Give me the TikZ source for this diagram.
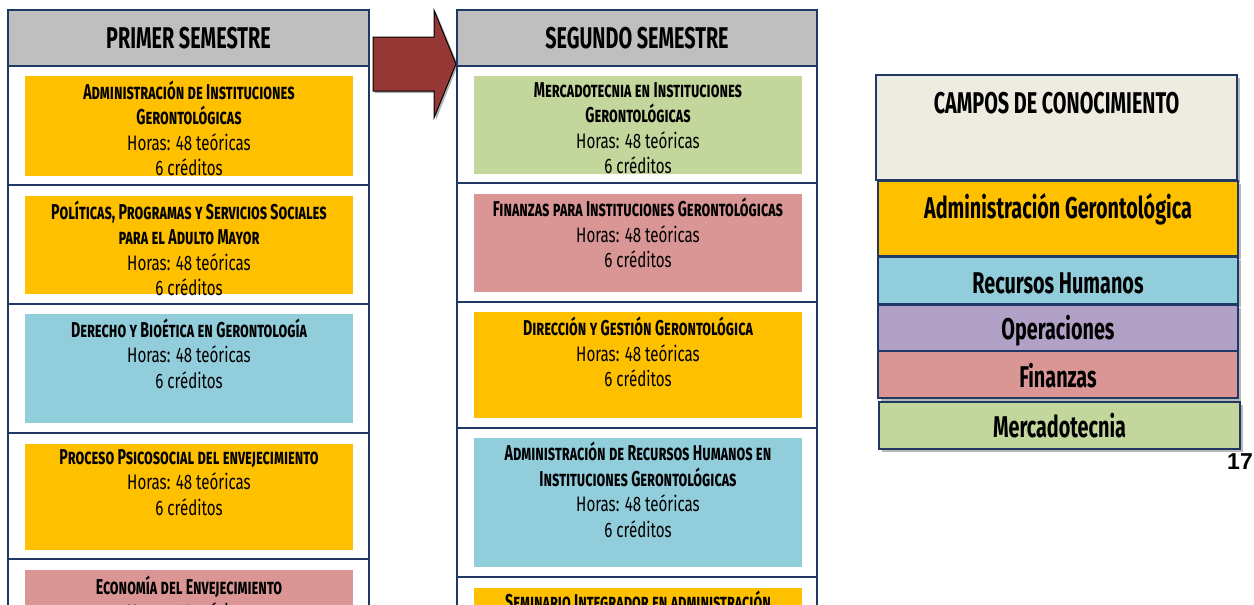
\documentclass[tikz,border=0pt]{standalone}
\usepackage{fontspec}
\setmainfont{Fira Sans}
\newfontfamily\ag[FakeStretch=0.66]{Fira Sans}
\newfontfamily\agb[FakeStretch=0.72]{Fira Sans}
\newfontfamily\arialb{Liberation Sans}
\usetikzlibrary{shadows}
\definecolor{navy}{HTML}{1F3864}
\definecolor{hdr}{HTML}{BFBFBF}
\definecolor{yel}{HTML}{FFC000}
\definecolor{blu}{HTML}{92CDDC}
\definecolor{pnk}{HTML}{D99694}
\definecolor{grn}{HTML}{C3D69B}
\definecolor{pur}{HTML}{B2A1C7}
\definecolor{cream}{HTML}{EEECE1}
\definecolor{arrred}{HTML}{953735}
\newcommand\sj{\ag\fontsize{21.5}{25.5}\selectfont\bfseries\scshape}
\newcommand\nm{\agb\fontsize{21}{25.5}\selectfont\mdseries\upshape}
\tikzset{
  cell/.style={draw=navy, line width=1.6pt, fill=white, inner sep=0pt},
  hcell/.style={cell, fill=hdr, font=\ag\bfseries\fontsize{30}{31}\selectfont},
  course/.style={inner sep=0pt, draw=none},
  txt/.style={align=center, inner sep=0pt, font=\ag\fontsize{19}{25.5}\selectfont},
  field/.style={draw=navy, line width=1.6pt, inner sep=0pt, minimum width=360pt,
    drop shadow={shadow xshift=3pt, shadow yshift=-3pt, fill=gray!70, opacity=0.8}},
  ftext/.style={anchor=base, inner sep=0pt, font=\ag\bfseries\fontsize{30}{31}\selectfont},
}
\begin{document}
\begin{tikzpicture}[x=1pt,y=-1pt]
\useasboundingbox (0,0) rectangle (1254,605);
\clip (0,0) rectangle (1254,605);
% ---------- left column ----------
\node[hcell, minimum width=361pt, minimum height=56pt] (lh) at (188.5,38) {PRIMER SEMESTRE};
\node[cell, minimum width=361pt, minimum height=119pt] (lr1) at (188.5,125.5) {};
\node[cell, minimum width=361pt, minimum height=119pt] (lr2) at (188.5,244.5) {};
\node[cell, minimum width=361pt, minimum height=129pt] (lr3) at (188.5,368.5) {};
\node[cell, minimum width=361pt, minimum height=126pt] (lr4) at (188.5,496) {};
\node[cell, minimum width=361pt, minimum height=141pt] (lr5) at (188.5,629.5) {};
\node[course, fill=yel, minimum width=328pt, minimum height=100pt] (lc1) at (189,126) {};
\node[course, fill=yel, minimum width=328pt, minimum height=98pt] (lc2) at (189,245) {};
\node[course, fill=blu, minimum width=328pt, minimum height=109pt] (lc3) at (189,368.5) {};
\node[course, fill=yel, minimum width=328pt, minimum height=106pt] (lc4) at (189,497) {};
\node[course, fill=pnk, minimum width=328pt, minimum height=130pt] (lc5) at (189,635) {};
\node[txt] (lt1) at (189,128.5) {\sj Administración de Instituciones\\\sj Gerontológicas\\\nm Horas: 48 teóricas\\\nm 6 créditos};
\node[txt] (lt2) at (189,248.5) {\sj Políticas, Programas y Servicios Sociales\\\sj para el Adulto Mayor\\\nm Horas: 48 teóricas\\\nm 6 créditos};
\node[txt] (lt3) at (189,353.5) {\sj Derecho y Bioética en Gerontología\\\nm Horas: 48 teóricas\\\nm 6 créditos};
\node[txt] (lt4) at (189,482.5) {\sj Proceso Psicosocial del envejecimiento\\\nm Horas: 48 teóricas\\\nm 6 créditos};
\node[txt] (lt5) at (189,610.5) {\sj Economía del Envejecimiento\\\nm Horas: 48 teóricas\\\nm 6 créditos};
% ---------- arrow ----------
\fill[gray!60] (375,39) -- (436,39) -- (436,12) -- (458,65) -- (436,120) -- (436,93) -- (375,93) -- cycle;
\filldraw[fill=arrred, draw=black, line width=1pt, line join=miter] (373,37) -- (434,37) -- (434,10) -- (456,64) -- (434,118) -- (434,91) -- (373,91) -- cycle;
% ---------- right column ----------
\node[hcell, minimum width=360pt, minimum height=56pt] (rh) at (637,38) {SEGUNDO SEMESTRE};
\node[cell, minimum width=360pt, minimum height=117pt] (rr1) at (637,124.5) {};
\node[cell, minimum width=360pt, minimum height=119pt] (rr2) at (637,242.5) {};
\node[cell, minimum width=360pt, minimum height=126pt] (rr3) at (637,365) {};
\node[cell, minimum width=360pt, minimum height=149pt] (rr4) at (637,502.5) {};
\node[cell, minimum width=360pt, minimum height=123pt] (rr5) at (637,638.5) {};
\node[course, fill=grn, minimum width=328pt, minimum height=98pt] (rc1) at (638,125) {};
\node[course, fill=pnk, minimum width=328pt, minimum height=98pt] (rc2) at (638,243) {};
\node[course, fill=yel, minimum width=328pt, minimum height=106pt] (rc3) at (638,365) {};
\node[course, fill=blu, minimum width=328pt, minimum height=129pt] (rc4) at (638,502.5) {};
\node[course, fill=yel, minimum width=328pt, minimum height=112pt] (rc5) at (638,644) {};
\node[txt] (rt1) at (638,128) {\sj Mercadotecnia en Instituciones\\\sj Gerontológicas\\\nm Horas: 48 teóricas\\\nm 6 créditos};
\node[txt] (rt2) at (638,233) {\sj Finanzas para Instituciones Gerontológicas\\\nm Horas: 48 teóricas\\\nm 6 créditos};
\node[txt] (rt3) at (638,352) {\sj Dirección y Gestión Gerontológica\\\nm Horas: 48 teóricas\\\nm 6 créditos};
\node[txt] (rt4) at (638,490) {\sj Administración de Recursos Humanos en\\\sj Instituciones Gerontológicas\\\nm Horas: 48 teóricas\\\nm 6 créditos};
\node[txt] (rt5) at (638,600) {\sj Seminario Integrador en administración};
% ---------- right panel ----------
\node[field, fill=cream, minimum width=361pt, minimum height=105pt] (campos) at (1056.5,127.5) {};
\node[ftext] (campost) at (1056.5,113) {CAMPOS DE CONOCIMIENTO};
\node[field, fill=yel, minimum height=75pt] (fa) at (1058,218.5) {};
\node[field, fill=blu, minimum height=47pt] (fr) at (1058,280.5) {};
\node[field, fill=pur, minimum height=46pt] (fo) at (1058,328) {};
\node[field, fill=pnk, minimum height=47pt] (ff) at (1058,374.5) {};
\node[field, fill=grn, minimum width=361pt, minimum height=47pt] (fm) at (1059.5,425.5) {};
\node[ftext] (fat) at (1058,218) {Administración Gerontológica};
\node[ftext] (frt) at (1058,293) {Recursos Humanos};
\node[ftext] (fot) at (1058,339) {Operaciones};
\node[ftext] (fft) at (1058,387) {Finanzas};
\node[ftext] (fmt) at (1059.5,437) {Mercadotecnia};
\node[font=\arialb\bfseries\fontsize{23}{24}\selectfont, inner sep=0pt] (pg) at (1240,462) {17};
\end{tikzpicture}
\end{document}
